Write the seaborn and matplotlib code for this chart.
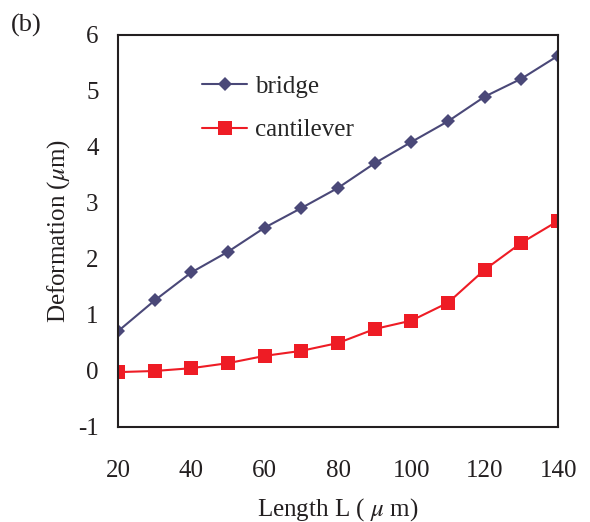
import matplotlib
matplotlib.use("Agg")
import matplotlib.pyplot as plt
import seaborn as sns
import pandas as pd

length = [20, 30, 40, 50, 60, 70, 80, 90, 100, 110, 120, 130, 140]
bridge = [0.71, 1.26, 1.76, 2.13, 2.56, 2.91, 3.27, 3.71, 4.09, 4.46, 4.90, 5.22, 5.63]
cantilever = [-0.02, 0.0, 0.05, 0.14, 0.27, 0.36, 0.50, 0.75, 0.90, 1.22, 1.81, 2.29, 2.68]
xticks = [20, 40, 60, 80, 100, 120, 140]
yticks = [-1, 0, 1, 2, 3, 4, 5, 6]

sns.set_style("white")
plt.rcParams['font.family'] = ['Liberation Serif', 'DejaVu Serif']
plt.rcParams['mathtext.fontset'] = 'stix'

fig = plt.figure(figsize=(5.9, 5.22), dpi=100)
ax = fig.add_axes([0.2, 0.182, 0.746, 0.751])

df = pd.DataFrame({"L": length, "bridge": bridge, "cantilever": cantilever})
sns.lineplot(data=df, x="L", y="bridge", ax=ax, color="#4A4878", marker="D",
             markersize=7.5, markeredgewidth=0, linewidth=1.5, label="bridge")
sns.lineplot(data=df, x="L", y="cantilever", ax=ax, color="#EE1C25", marker="s",
             markersize=9.5, markeredgewidth=0, linewidth=1.5, label="cantilever")

ax.set_xlim(20, 140)
ax.set_ylim(-1, 6)
ax.set_xticks(xticks)
ax.set_yticks(yticks)
ax.set_xticklabels([str(t) for t in xticks], fontsize=18)
ax.set_yticklabels([str(t) for t in yticks], fontsize=18)
ax.tick_params(axis='x', direction='in', length=7, width=1.2, pad=24, colors='#231F20')
ax.tick_params(axis='y', direction='in', length=7, width=1.2, pad=14, colors='#231F20')
for s in ax.spines.values():
    s.set_linewidth(1.5)
    s.set_color('#231F20')

ax.set_xlabel(r"Length L ( $\mu$ m)", fontsize=18, color='#231F20', labelpad=10)
ax.set_ylabel(r"Deformation ($\mu$m)", fontsize=18, color='#231F20', labelpad=4)

leg = ax.legend(loc='upper left', bbox_to_anchor=(0.14, 0.955), frameon=False,
                fontsize=18, handlelength=1.8, labelspacing=0.85, handletextpad=0.3)

fig.text(0.018, 0.94, "(b)", fontsize=19, color='#231F20')

fig.savefig("out.png", dpi=100)
